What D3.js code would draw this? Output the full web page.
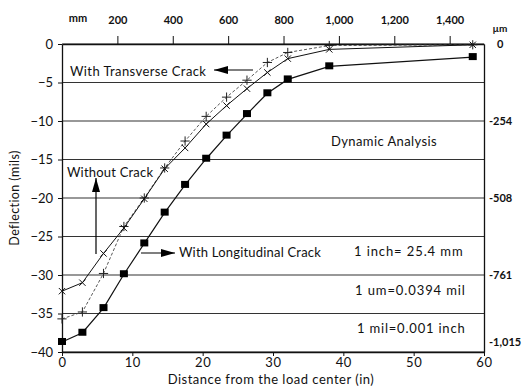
<!DOCTYPE html>
<html>
<head>
<meta charset="utf-8">
<script src="https://cdn.jsdelivr.net/npm/d3@7/dist/d3.min.js"></script>
<style>
  html, body { margin: 0; padding: 0; background: #fff; }
  svg { display: block; }
  text { font-family: Lato, "Open Sans", sans-serif; fill: #111; }
</style>
</head>
<body>
<svg id="chart" width="524" height="390"></svg>
<script>
// Distance from the load center (in)
const distance = [0, 2.9, 5.9, 8.8, 11.7, 14.6, 17.5, 20.5, 23.4, 26.3, 29.2, 32.1, 38.0, 58.4];
// Deflection (mils) for each case
const transverseCrack = [-35.7, -34.8, -29.8, -23.7, -20.0, -16.1, -12.6, -9.4, -6.9, -4.7, -2.4, -1.1, -0.2, -0.1];
const withoutCrack    = [-32.1, -31.0, -27.2, -23.9, -20.1, -16.2, -13.5, -10.4, -8.0, -5.8, -3.7, -1.9, -0.7, -0.1];
const longitudinalCrack = [-38.7, -37.5, -34.3, -29.9, -25.9, -21.9, -18.3, -14.9, -11.9, -9.1, -6.4, -4.6, -2.9, -1.7];

const xTicks = [0, 10, 20, 30, 40, 50, 60];
const yTicks = [0, -5, -10, -15, -20, -25, -30, -35, -40];
const mmTicks = [200, 400, 600, 800, 1000, 1200, 1400];
const umTicks = [0, -254, -508, -761, -1015];

const svg = d3.select("#chart");
const plotL = 62, plotR = 484, plotT = 44, plotB = 352;

const x = d3.scaleLinear().domain([0, 60]).range([plotL, plotR]);
const y = d3.scaleLinear().domain([0, -40]).range([plotT, plotB]);
const xmm = d3.scaleLinear().domain([0, 60 * 25.4]).range([plotL, plotR]);
const yum = d3.scaleLinear().domain([0, -40 * 25.4]).range([plotT, plotB]);

const fmtInt = v => {
  const s = d3.format(",")(Math.abs(v));
  return v < 0 ? "-" + s : s;
};

// horizontal grid lines every 5 mils
svg.append("g")
  .selectAll("line")
  .data(yTicks)
  .join("line")
  .attr("x1", plotL).attr("x2", plotR)
  .attr("y1", d => y(d)).attr("y2", d => y(d))
  .attr("stroke", "#333").attr("stroke-width", 1.2);

// left axis (mils)
const gLeft = svg.append("g")
  .attr("transform", `translate(${plotL},0)`)
  .call(d3.axisLeft(y).tickValues(yTicks).tickSize(4).tickSizeOuter(0)
    .tickFormat(d => d === 0 ? "0" : "\u2212" + Math.abs(d)));
gLeft.select(".domain").attr("stroke", "#111").attr("stroke-width", 1.3);
gLeft.selectAll(".tick line").attr("stroke", "#111");
gLeft.selectAll(".tick text").attr("font-size", 13).attr("font-family", "Lato").attr("fill", "#111").attr("x", -9);

// bottom axis (in)
const gBottom = svg.append("g")
  .attr("transform", `translate(0,${plotB})`)
  .call(d3.axisBottom(x).tickValues(xTicks).tickSize(4).tickSizeOuter(0));
gBottom.select(".domain").attr("stroke", "#111").attr("stroke-width", 1.3);
gBottom.selectAll(".tick line").attr("stroke", "#111");
gBottom.selectAll(".tick text").attr("font-size", 13).attr("font-family", "Lato").attr("fill", "#111")
  .attr("y", 6).attr("letter-spacing", 0.6);

// top axis (mm)
const gTop = svg.append("g")
  .attr("transform", `translate(0,${plotT})`)
  .call(d3.axisTop(xmm).tickValues(mmTicks).tickSize(8).tickSizeOuter(0).tickFormat(fmtInt));
gTop.select(".domain").attr("stroke", "#111").attr("stroke-width", 1.3);
gTop.selectAll(".tick line").attr("stroke", "#111");
gTop.selectAll(".tick text").attr("font-size", 11).attr("font-weight", "bold")
  .attr("font-family", "Lato").attr("fill", "#111").attr("y", -20);
svg.append("text").attr("x", 78).attr("y", 22).attr("text-anchor", "middle")
  .attr("font-size", 11).attr("font-weight", "bold").text("mm");

// right axis (µm)
const gRight = svg.append("g")
  .attr("transform", `translate(${plotR},0)`)
  .call(d3.axisRight(yum).tickValues(umTicks).tickSize(0).tickSizeOuter(0).tickFormat(fmtInt));
gRight.select(".domain").attr("stroke", "#111").attr("stroke-width", 1.3);
gRight.selectAll(".tick text").attr("font-size", 11).attr("font-weight", "bold")
  .attr("font-family", "Lato").attr("fill", "#111")
  .attr("x", d => d === 0 ? 13 : 5)
  .attr("dy", d => d === -1015 ? "-0.6em" : "0.32em");
svg.append("text").attr("x", 500).attr("y", 32).attr("text-anchor", "middle")
  .attr("font-size", 10).attr("font-weight", "bold").text("\u00b5m");

// axis titles
svg.append("text")
  .attr("transform", `translate(19,${(plotT + plotB) / 2}) rotate(-90)`)
  .attr("text-anchor", "middle").attr("font-size", 12.5).attr("letter-spacing", 0.4)
  .text("Deflection (mils)");
svg.append("text")
  .attr("x", 271).attr("y", 384).attr("text-anchor", "middle")
  .attr("font-size", 13).attr("letter-spacing", 0.5)
  .text("Distance from the load center (in)");

// series
const series = [
  { name: "transverse", values: transverseCrack, dash: "3,2", width: 0.9, stroke: "#444" },
  { name: "without", values: withoutCrack, dash: null, width: 1, stroke: "#111" },
  { name: "longitudinal", values: longitudinalCrack, dash: null, width: 1.2, stroke: "#111" }
];

const line = d3.line().x(d => x(d[0])).y(d => y(d[1]));

series.forEach(s => {
  const pts = distance.map((d, i) => [d, s.values[i]]);
  svg.append("path")
    .datum(pts)
    .attr("d", line)
    .attr("fill", "none")
    .attr("stroke", s.stroke)
    .attr("stroke-width", s.width)
    .attr("stroke-dasharray", s.dash);

  const g = svg.append("g");
  if (s.name === "longitudinal") {
    g.selectAll("rect").data(pts).join("rect")
      .attr("x", d => x(d[0]) - 4).attr("y", d => y(d[1]) - 4)
      .attr("width", 8).attr("height", 7).attr("fill", "#000");
  } else if (s.name === "without") {
    const sym = d3.symbol().type(d3.symbolTimes || d3.symbolCross).size(28);
    g.selectAll("path").data(pts).join("path")
      .attr("transform", d => `translate(${x(d[0])},${y(d[1])})`)
      .attr("d", sym).attr("fill", "none").attr("stroke", "#111").attr("stroke-width", 1);
  } else {
    g.selectAll("path").data(pts).join("path")
      .attr("transform", d => `translate(${x(d[0])},${y(d[1])})`)
      .attr("d", d3.symbol().type(d3.symbolPlus || d3.symbolCross).size(30))
      .attr("fill", "none").attr("stroke", "#222").attr("stroke-width", 1);
  }
});

// arrowhead
const defs = svg.append("defs");
defs.append("marker")
  .attr("id", "head").attr("viewBox", "0 0 14 8")
  .attr("refX", 14).attr("refY", 4)
  .attr("markerWidth", 14).attr("markerHeight", 8)
  .attr("markerUnits", "userSpaceOnUse")
  .attr("orient", "auto")
  .append("path").attr("d", "M0,0 L14,4 L0,8 Z").attr("fill", "#000");

const arrow = (x1, y1, x2, y2) => svg.append("line")
  .attr("x1", x1).attr("y1", y1).attr("x2", x2).attr("y2", y2)
  .attr("stroke", "#000").attr("stroke-width", 1.2)
  .attr("marker-end", "url(#head)");

// annotations
const label = (tx, ty, str, spacing) => svg.append("text")
  .attr("x", tx).attr("y", ty).attr("font-size", 13).attr("dy", "0.35em")
  .attr("letter-spacing", spacing).text(str);

label(70, 71, "With Transverse Crack", 0.4);
arrow(253, 70, 214, 70);

label(67, 172, "Without Crack", 0.2);
arrow(96, 254, 96, 178);

arrow(141, 253, 175, 253);
label(179, 252, "With Longitudinal Crack", 0.2);

label(331, 141, "Dynamic Analysis", 0.4);
label(354, 251, "1 inch= 25.4 mm", 0.9);
label(355, 290, "1 um=0.0394 mil", 0.9);
label(357, 328, "1 mil=0.001 inch", 0.8);
</script>
</body>
</html>
